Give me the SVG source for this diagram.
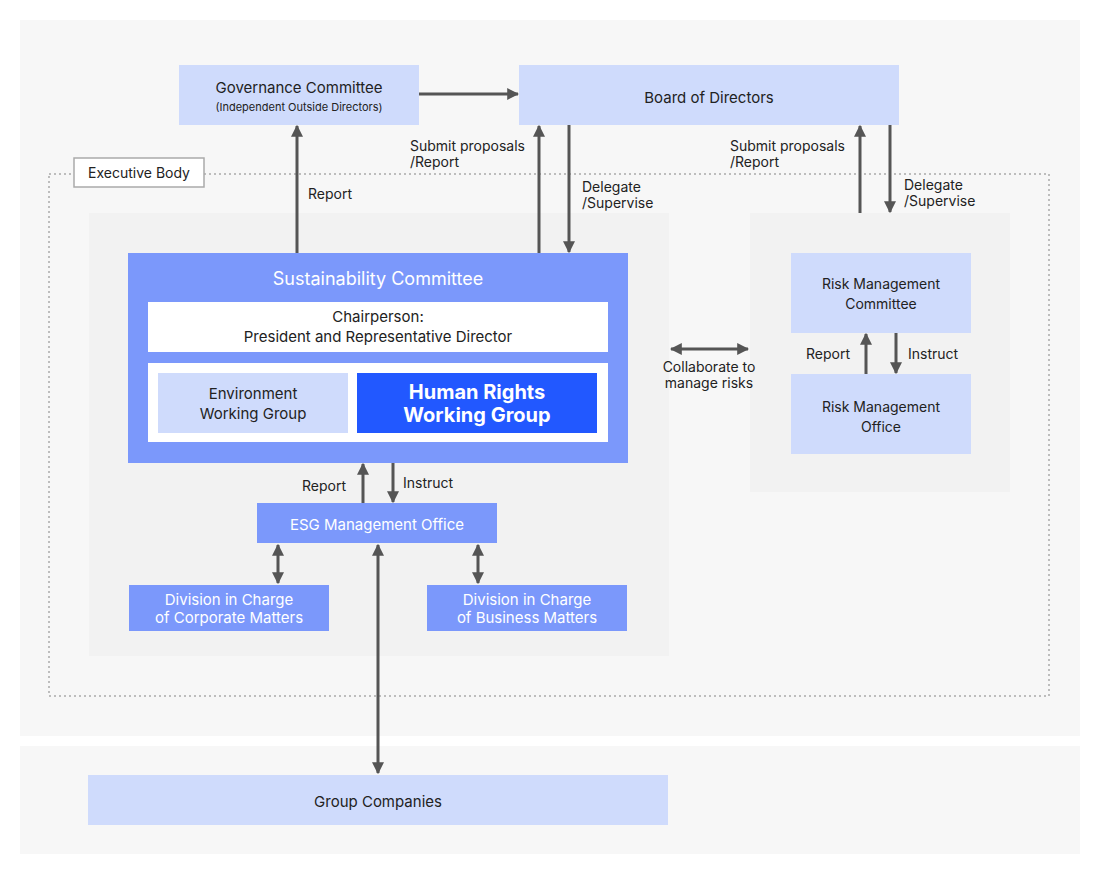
<svg xmlns="http://www.w3.org/2000/svg" width="1100" height="874" viewBox="0 0 1100 874">
<style>
text{font-family:Inter,"Noto Sans","Liberation Sans",sans-serif;text-anchor:middle;fill:#222}
.lb{fill:#cfdbfc}.md{fill:#7b98fb}
.w{fill:#fff}
.c line{stroke:#555;stroke-width:3}
.lab{text-anchor:start;font-size:14px}
</style>
<defs>
<marker id="a" viewBox="0 0 10 10" refX="9" refY="5" markerWidth="4" markerHeight="4" orient="auto-start-reverse" markerUnits="strokeWidth"><path d="M0,0L10,5L0,10Z" fill="#555"/></marker>
</defs>
<rect width="1100" height="874" fill="#fff"/>
<rect x="20" y="20" width="1060" height="716" fill="#f7f7f7"/>
<rect x="20" y="746" width="1060" height="108" fill="#f7f7f7"/>
<rect x="49" y="174" width="1000" height="522" fill="none" stroke="#aaa" stroke-width="1.5" stroke-dasharray="2 3"/>
<rect x="74" y="158" width="130" height="29" fill="#fff" stroke="#aaa" stroke-width="1.5"/>
<text x="139" y="178" font-size="14">Executive Body</text>
<rect x="89" y="213" width="580" height="443" fill="#f2f2f2"/>
<rect x="750" y="213" width="260" height="279" fill="#f2f2f2"/>

<g id="governance"><rect class="lb" x="179" y="65" width="240" height="60"/>
<text x="299" y="93" font-size="15">Governance Committee</text>
<text x="299" y="111" font-size="11">(Independent Outside Directors)</text></g>
<g id="board"><rect class="lb" x="519" y="65" width="380" height="60"/><text x="709" y="103" font-size="15">Board of Directors</text></g>
<g id="sustainability"><rect class="md" x="128" y="253" width="500" height="210"/>
<text x="378" y="285" font-size="18" style="fill:#fff">Sustainability Committee</text>
<rect class="w" x="148" y="302" width="460" height="50"/>
<text x="378" y="322" font-size="15">Chairperson:</text>
<text x="378" y="342" font-size="15">President and Representative Director</text>
<rect class="w" x="148" y="363" width="460" height="79"/></g>
<g id="env"><rect class="lb" x="158" y="373" width="190" height="60"/>
<text x="253" y="399" font-size="15">Environment</text><text x="253" y="419" font-size="15">Working Group</text></g>
<g id="hr"><rect fill="#2258ff" x="357" y="373" width="240" height="60"/>
<text x="477" y="399" font-size="20" font-weight="bold" style="fill:#fff">Human Rights</text>
<text x="477" y="422" font-size="20" font-weight="bold" style="fill:#fff">Working Group</text></g>
<g id="esg"><rect class="md" x="257" y="503" width="240" height="40"/><text x="377" y="530" font-size="15" style="fill:#fff">ESG Management Office</text></g>
<g id="corp"><rect class="md" x="129" y="585" width="200" height="46"/>
<text x="229" y="605" font-size="15" style="fill:#fff">Division in Charge</text><text x="229" y="623" font-size="15" style="fill:#fff">of Corporate Matters</text></g>
<g id="bus"><rect class="md" x="427" y="585" width="200" height="46"/>
<text x="527" y="605" font-size="15" style="fill:#fff">Division in Charge</text><text x="527" y="623" font-size="15" style="fill:#fff">of Business Matters</text></g>
<g id="group"><rect class="lb" x="88" y="775" width="580" height="50"/><text x="378" y="807" font-size="15">Group Companies</text></g>
<g id="rmc"><rect class="lb" x="791" y="253" width="180" height="80"/>
<text x="881" y="289" font-size="14">Risk Management</text><text x="881" y="309" font-size="14">Committee</text></g>
<g id="rmo"><rect class="lb" x="791" y="374" width="180" height="80"/>
<text x="881" y="412" font-size="14">Risk Management</text><text x="881" y="432" font-size="14">Office</text></g>

<g class="c" id="connectors">
<line x1="419" y1="94" x2="518" y2="94" marker-end="url(#a)"/>
<line x1="297" y1="253" x2="297" y2="126" marker-end="url(#a)"/>
<line x1="539" y1="253" x2="539" y2="126" marker-end="url(#a)"/>
<line x1="569" y1="125" x2="569" y2="252" marker-end="url(#a)"/>
<line x1="860" y1="213" x2="860" y2="126" marker-end="url(#a)"/>
<line x1="890" y1="125" x2="890" y2="212" marker-end="url(#a)"/>
<line x1="671" y1="349" x2="748" y2="349" marker-start="url(#a)" marker-end="url(#a)"/>
<line x1="866" y1="374" x2="866" y2="334" marker-end="url(#a)"/>
<line x1="896" y1="333" x2="896" y2="373" marker-end="url(#a)"/>
<line x1="363" y1="503" x2="363" y2="464" marker-end="url(#a)"/>
<line x1="393" y1="463" x2="393" y2="502" marker-end="url(#a)"/>
<line x1="278" y1="545" x2="278" y2="583" marker-start="url(#a)" marker-end="url(#a)"/>
<line x1="478" y1="545" x2="478" y2="583" marker-start="url(#a)" marker-end="url(#a)"/>
<line x1="378" y1="545" x2="378" y2="773" marker-start="url(#a)" marker-end="url(#a)"/>
</g>
<text class="lab" x="308" y="199">Report</text>
<text class="lab" x="410" y="151">Submit proposals</text>
<text class="lab" x="410" y="167">/Report</text>
<text class="lab" x="582" y="192">Delegate</text>
<text class="lab" x="582" y="208">/Supervise</text>
<text class="lab" x="730" y="151">Submit proposals</text>
<text class="lab" x="730" y="167">/Report</text>
<text class="lab" x="904" y="190">Delegate</text>
<text class="lab" x="904" y="206">/Supervise</text>
<text x="709" y="372" font-size="14">Collaborate to</text>
<text x="709" y="388" font-size="14">manage risks</text>
<text class="lab" x="806" y="359">Report</text>
<text class="lab" x="908" y="359">Instruct</text>
<text class="lab" x="302" y="491">Report</text>
<text class="lab" x="403" y="488">Instruct</text>
</svg>
